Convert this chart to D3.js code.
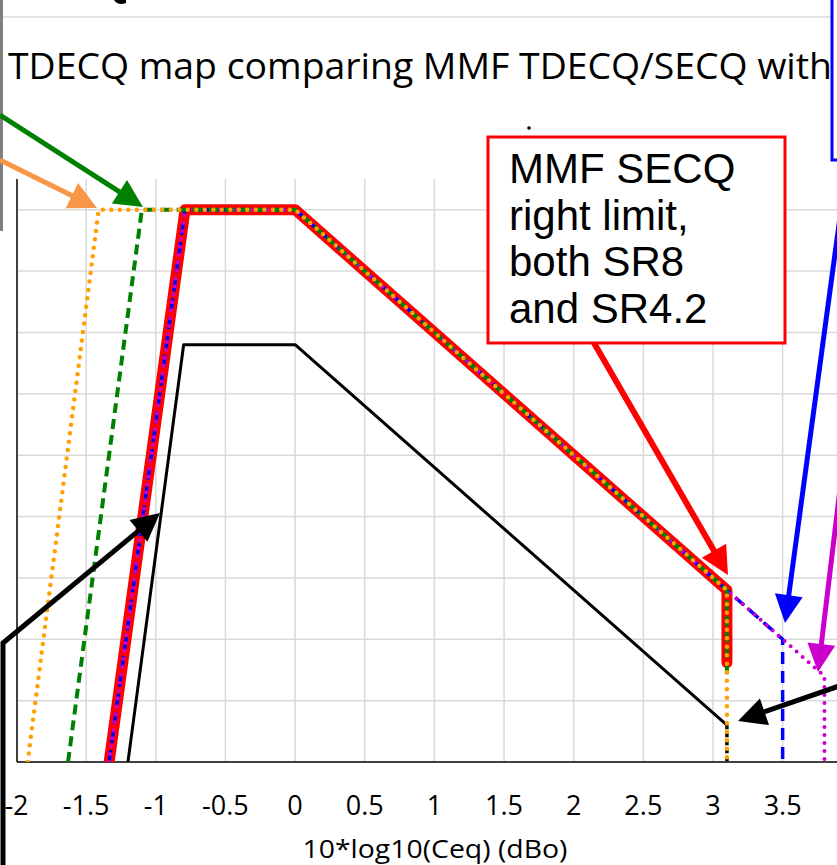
<!DOCTYPE html>
<html>
<head>
<meta charset="utf-8">
<script src="https://cdn.jsdelivr.net/npm/d3@7"></script>
<style>
  body { margin: 0; background: #fff; }
  svg { display: block; }
</style>
</head>
<body>
<div id="chart"></div>
<script>
// x axis ticks (dBo) and y gridlines (dB)
const xTicks = [-2, -1.5, -1, -0.5, 0, 0.5, 1, 1.5, 2, 2.5, 3, 3.5, 4];
const yTicks = [0, 0.5, 1, 1.5, 2, 2.5, 3, 3.5, 4, 4.5];

// series
const secqX = [-1.335, -0.79, 0, 3.1, 3.1];
const secqY = [0, 4.5, 4.5, 1.4, 0.81];
const sr8X = [-1.335, -0.79, 0, 3.5, 3.5];
const sr8Y = [0, 4.5, 4.5, 1.0, 0];
const sr42X = [-1.335, -0.79, 0, 3.8, 3.8];
const sr42Y = [0, 4.5, 4.5, 0.7, 0];
const greenX = [-1.63, -1.10, 0, 3.1, 3.1];
const greenY = [0, 4.5, 4.5, 1.4, 0.68];
const orangeX = [-1.92, -1.41, 0, 3.1, 3.1];
const orangeY = [0, 4.5, 4.5, 1.4, 0];
const blackX = [-1.2, -0.8, 0, 3.1];
const blackY = [0, 3.4, 3.4, 0.3];
const blackEndX = [3.1, 3.1];
const blackEndY = [0.3, 0];

const boxLines = ['MMF SECQ', 'right limit,', 'both SR8', 'and SR4.2'];

const W = 837, H = 865;
const plot = { left: 17, top: 179, right: 837, bottom: 762 };

const svg = d3.select('#chart').append('svg')
    .attr('width', W)
    .attr('height', H);

const x = d3.scaleLinear().domain([-2, 4]).range([16.5, 852.3]);
const y = d3.scaleLinear().domain([0, 4.75]).range([762, 179]);

// top rule and left bar of the surrounding slide
svg.append('line')
    .attr('x1', 0).attr('x2', W).attr('y1', 17).attr('y2', 17)
    .attr('stroke', '#d9d9d9').attr('stroke-width', 1.5);
svg.append('rect')
    .attr('x', 0).attr('y', 0).attr('width', 3).attr('height', 231)
    .attr('fill', '#808080');
// bit of a letter from the line above, cut off
svg.append('path')
    .attr('d', 'M114,0 Q118,6 126,3 L126,0 Z')
    .attr('fill', '#000');

// title
svg.append('text')
    .attr('x', 8).attr('y', 79)
    .attr('font-family', 'Open Sans').attr('font-size', 36)
    .attr('textLength', 824).attr('lengthAdjust', 'spacingAndGlyphs')
    .text('TDECQ map comparing MMF TDECQ/SECQ with');

// grid
const grid = svg.append('g');
grid.selectAll('.vg')
    .data(xTicks.filter(d => d > -2))
    .enter().append('line')
    .attr('x1', d => x(d)).attr('x2', d => x(d))
    .attr('y1', plot.top).attr('y2', plot.bottom)
    .attr('stroke', '#d9d9d9').attr('stroke-width', 1.5);
grid.selectAll('.hg')
    .data(yTicks.filter(d => d > 0))
    .enter().append('line')
    .attr('x1', plot.left).attr('x2', plot.right)
    .attr('y1', d => y(d)).attr('y2', d => y(d))
    .attr('stroke', '#d9d9d9').attr('stroke-width', 1.5);

// axes lines
svg.append('line')
    .attr('x1', plot.left).attr('x2', plot.left)
    .attr('y1', plot.top).attr('y2', plot.bottom)
    .attr('stroke', '#000').attr('stroke-width', 1.5);
svg.append('line')
    .attr('x1', plot.left).attr('x2', plot.right)
    .attr('y1', plot.bottom).attr('y2', plot.bottom)
    .attr('stroke', '#000').attr('stroke-width', 1.5);

// tick labels
svg.selectAll('.xt')
    .data(xTicks.filter(d => d <= 3.5))
    .enter().append('text')
    .attr('x', d => x(d)).attr('y', 815)
    .attr('text-anchor', 'middle')
    .attr('font-family', 'Open Sans').attr('font-size', 27)
    .text(d => d);

svg.append('text')
    .attr('x', 435).attr('y', 858)
    .attr('text-anchor', 'middle')
    .attr('font-family', 'Open Sans').attr('font-size', 26)
    .attr('textLength', 265).attr('lengthAdjust', 'spacingAndGlyphs')
    .text('10*log10(Ceq) (dBo)');

// data lines, clipped to plot area
svg.append('clipPath').attr('id', 'clip')
    .append('rect')
    .attr('x', plot.left).attr('y', plot.top)
    .attr('width', plot.right - plot.left).attr('height', plot.bottom - plot.top);

const lines = svg.append('g').attr('clip-path', 'url(#clip)');
const line = d3.line().x(d => x(d[0])).y(d => y(d[1]));
const zip = (xs, ys) => xs.map((v, i) => [v, ys[i]]);

function drawSeries(xs, ys, color, width, dash, cap) {
    lines.append('path')
        .attr('d', line(zip(xs, ys)))
        .attr('fill', 'none')
        .attr('stroke', color)
        .attr('stroke-width', width)
        .attr('stroke-dasharray', dash)
        .attr('stroke-linecap', cap || 'butt')
        .attr('stroke-linejoin', 'round');
}

drawSeries(secqX, secqY, '#ff0000', 11, null, 'round');
drawSeries(blackX, blackY, '#000', 3, null);
drawSeries(blackEndX, blackEndY, '#000', 3.5, '4 4');
drawSeries(sr8X, sr8Y, '#0000ff', 3.5, '12 7');
drawSeries(sr42X, sr42Y, '#cc00cc', 4, '0 8', 'round');
drawSeries(greenX, greenY, '#008000', 4, '10 6');
drawSeries(orangeX, orangeY, '#ffa000', 4.5, '0 8.5', 'round');

// annotation: red text box
svg.append('circle').attr('cx', 529).attr('cy', 128).attr('r', 1.8).attr('fill', '#000');
svg.append('rect')
    .attr('x', 488).attr('y', 137).attr('width', 297).attr('height', 206)
    .attr('fill', '#fff').attr('stroke', '#ff0000').attr('stroke-width', 3);
svg.selectAll('.bl')
    .data(boxLines)
    .enter().append('text')
    .attr('x', 509).attr('y', (d, i) => 183 + i * 46.7)
    .attr('font-family', 'Liberation Sans, Arial').attr('font-size', 42)
    .text(d => d);

// blue box at top right (cut off)
svg.append('rect')
    .attr('x', 832).attr('y', -5).attr('width', 30).attr('height', 165)
    .attr('fill', '#fff').attr('stroke', '#0000ff').attr('stroke-width', 3);

// arrows
function arrow(pts, color, width) {
    const n = pts.length;
    const [x1, y1] = pts[n - 2], [x2, y2] = pts[n - 1];
    const a = Math.atan2(y2 - y1, x2 - x1);
    const L = 28, Wd = 28;
    const bx = x2 - L * Math.cos(a), by = y2 - L * Math.sin(a);
    const shaft = pts.slice(0, n - 1).concat([[bx + 2 * Math.cos(a), by + 2 * Math.sin(a)]]);
    svg.append('path')
        .attr('d', d3.line()(shaft))
        .attr('fill', 'none').attr('stroke', color).attr('stroke-width', width)
        .attr('stroke-linejoin', 'miter');
    const px = -Math.sin(a) * Wd / 2, py = Math.cos(a) * Wd / 2;
    svg.append('path')
        .attr('d', `M${x2},${y2}L${bx + px},${by + py}L${bx - px},${by - py}Z`)
        .attr('fill', color);
}

arrow([[0, 160], [97, 208]], '#f79646', 5);
arrow([[0, 115], [143, 207]], '#008000', 5);
arrow([[3, 870], [3, 643], [160, 513]], '#000', 5);
arrow([[594, 343], [728, 575]], '#ff0000', 6);
arrow([[845, 180], [785, 623]], '#0000ff', 5);
arrow([[842, 472], [818, 672]], '#cc00cc', 5);
arrow([[845, 684], [738, 721]], '#000', 5);
</script>
</body>
</html>
